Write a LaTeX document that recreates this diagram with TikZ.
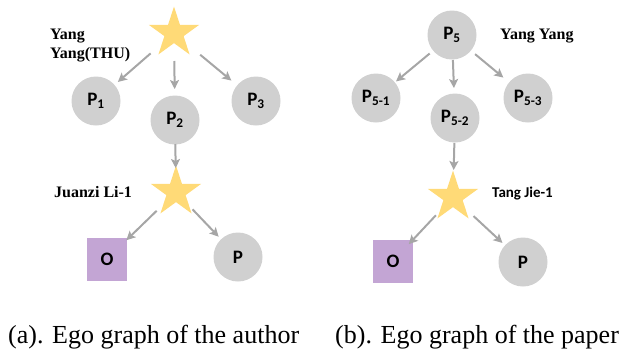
\documentclass[tikz,border=0pt]{standalone}
\usepackage{fontspec}
\setmainfont{Liberation Serif}
\newfontfamily\calibri{Carlito}
\usepackage{xcolor}
\usetikzlibrary{shapes,arrows.meta,positioning}

\definecolor{staryellow}{HTML}{FFDA77}
\definecolor{nodegray}{HTML}{D0D0D0}
\definecolor{orgpurple}{HTML}{C3A5D4}
\definecolor{linkgray}{HTML}{A6A6A6}

\begin{document}
\begin{tikzpicture}[x=1pt, y=-1pt,
    paper/.style={circle, fill=nodegray, minimum size=49pt, inner sep=0pt, font=\calibri\bfseries\fontsize{19}{19}\selectfont},
    author/.style={star, star points=5, star point ratio=2.618, fill=staryellow, minimum size=53pt, inner sep=0pt},
    org/.style={rectangle, fill=orgpurple, minimum width=40pt, minimum height=43pt, inner sep=0pt, font=\calibri\bfseries\fontsize{19}{19}\selectfont},
    authlabel/.style={inner sep=0pt, font=\bfseries\fontsize{16}{19}\selectfont},
    sanslabel/.style={inner sep=0pt, font=\calibri\bfseries\fontsize{15}{18}\selectfont},
    captext/.style={inner sep=0pt, font=\fontsize{26}{30}\selectfont},
    link/.style={-{Stealth[length=9pt, width=9pt, inset=2pt]}, linkgray, line width=2pt}]
    \useasboundingbox (0,0) rectangle (620,354);

    % Nodes (a)
    \node[author] (a-star) at (174,33) {};
    \node[paper] (a-p1) at (96,101) {P\textsubscript{1}};
    \node[paper] (a-p2) at (175,120) {P\textsubscript{2}};
    \node[paper] (a-p3) at (256,101) {P\textsubscript{3}};
    \node[author] (a-coauth) at (176,192) {};
    \node[org] (a-org) at (107,259) {O};
    \node[paper] (a-paper) at (238,257) {P};
    \node[authlabel, anchor=base west, align=left] (a-name) at (50,58) {Yang\\Yang(THU)};
    \node[authlabel, anchor=base west] (a-coname) at (54,197) {Juanzi Li-1};
    \node[captext, anchor=base west] (a-cap) at (8,343) {(a). Ego graph of the author};

    % Nodes (b)
    \node[paper] (b-p5) at (452,35) {P\textsubscript{5}};
    \node[paper] (b-p51) at (376,98) {P\textsubscript{5-1}};
    \node[paper] (b-p52) at (455,118) {P\textsubscript{5-2}};
    \node[paper] (b-p53) at (528,98) {P\textsubscript{5-3}};
    \node[author] (b-star) at (453,197) {};
    \node[org] (b-org) at (393,261) {O};
    \node[paper] (b-paper) at (523,262) {P};
    \node[authlabel, anchor=base west] (b-name) at (500,39) {Yang Yang};
    \node[sanslabel, anchor=base west] (b-coname) at (492,197) {Tang Jie-1};
    \node[captext, anchor=base west] (b-cap) at (335,343) {(b). Ego graph of the paper};

    % Arrows (a)
    \draw[link, shorten <=31pt, shorten >=29pt] (a-star.center) -- (a-p1.center);
    \draw[link, shorten <=28pt, shorten >=31pt] (a-star.center) -- (a-p2.center);
    \draw[link, shorten <=34pt, shorten >=32pt] (a-star.center) -- (a-p3.center);
    \draw[link, shorten <=24pt, shorten >=24pt] (a-p2.center) -- (a-coauth.center);
    \draw[link, shorten <=27pt, shorten >=27pt] (a-coauth.center) -- (a-org.center);
    \draw[link, shorten <=24pt, shorten >=28pt] (a-coauth.center) -- (a-paper.center);

    % Arrows (b)
    \draw[link, shorten <=29pt, shorten >=26pt] (b-p5.center) -- (b-p51.center);
    \draw[link, shorten <=25pt, shorten >=30pt] (b-p5.center) -- (b-p52.center);
    \draw[link, shorten <=30pt, shorten >=32pt] (b-p5.center) -- (b-p53.center);
    \draw[link, shorten <=25pt, shorten >=27pt] (b-p52.center) -- (b-star.center);
    \draw[link, shorten <=25pt, shorten >=23pt] (b-star.center) -- (b-org.center);
    \draw[link, shorten <=28pt, shorten >=28pt] (b-star.center) -- (b-paper.center);
\end{tikzpicture}
\end{document}
